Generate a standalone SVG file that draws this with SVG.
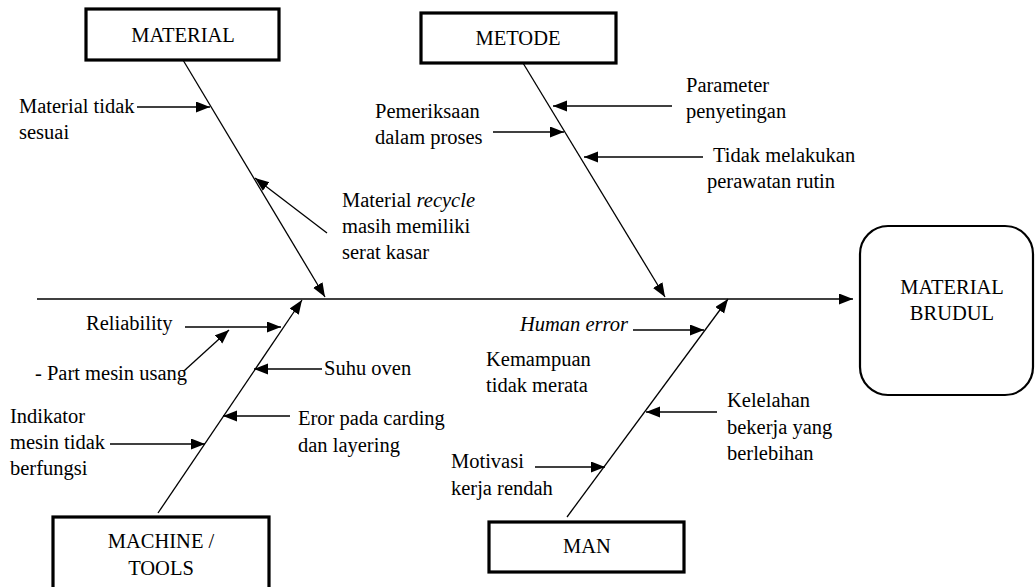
<svg xmlns="http://www.w3.org/2000/svg" width="1035" height="587" viewBox="0 0 1035 587">
<defs>
<marker id="ah" markerUnits="userSpaceOnUse" markerWidth="15" markerHeight="12" refX="14" refY="5.5" orient="auto">
<path d="M0,0 L14,5.5 L0,11 z" fill="#000"/>
</marker>
<style>
text{font-family:"Liberation Serif","Times New Roman",serif;font-size:20.5px;fill:#000}
.c{text-anchor:middle}
.i{font-style:italic}
.box{fill:#fff;stroke:#000;stroke-width:3.2}
.rbox{fill:#fff;stroke:#000;stroke-width:2.2}
#connectors line{stroke:#000;stroke-width:1.3;fill:none}
.a{marker-end:url(#ah)}
</style>
</defs>
<rect width="1035" height="587" fill="#fff"/>
<g id="connectors">
<line class="a" x1="37" y1="299" x2="853" y2="299"/>
<line class="a" x1="183" y1="60" x2="325" y2="297"/>
<line class="a" x1="523" y1="63" x2="665" y2="297"/>
<line class="a" x1="158" y1="513" x2="302" y2="300"/>
<line class="a" x1="567" y1="517" x2="728" y2="299"/>
<line class="a" x1="137" y1="107" x2="210" y2="107"/>
<line class="a" x1="327" y1="233" x2="255" y2="178"/>
<line class="a" x1="493" y1="132" x2="564" y2="132"/>
<line class="a" x1="672" y1="106" x2="553" y2="106"/>
<line class="a" x1="703" y1="157" x2="584" y2="157"/>
<line class="a" x1="185" y1="327" x2="281" y2="327"/>
<line class="a" x1="185" y1="370" x2="229" y2="330"/>
<line class="a" x1="322" y1="369" x2="254" y2="369"/>
<line class="a" x1="290" y1="416" x2="223" y2="416"/>
<line class="a" x1="110" y1="444" x2="205" y2="444"/>
<line class="a" x1="633" y1="330" x2="704" y2="330"/>
<line class="a" x1="717" y1="412" x2="646" y2="412"/>
<line class="a" x1="535" y1="467" x2="605" y2="467"/>
</g>
<g id="material">
<rect class="box" x="86" y="9" width="193" height="51"/>
<text class="c" x="183" y="42">MATERIAL</text>
</g>
<g id="metode">
<rect class="box" x="421" y="13" width="195" height="50"/>
<text class="c" x="518" y="45">METODE</text>
</g>
<g id="machine">
<rect class="box" x="53" y="517" width="216" height="90"/>
<text class="c" x="161" y="548">MACHINE /</text>
<text class="c" x="161" y="575">TOOLS</text>
</g>
<g id="man">
<rect class="box" x="489" y="522" width="195" height="50"/>
<text class="c" x="587" y="553">MAN</text>
</g>
<g id="effect">
<rect class="rbox" x="860" y="226" width="173" height="169" rx="28"/>
<text class="c" x="952" y="294">MATERIAL</text>
<text class="c" x="952" y="320">BRUDUL</text>
</g>
<g id="labels">
<text x="19" y="113">Material tidak</text>
<text x="19" y="139">sesuai</text>
<text x="342" y="207">Material <tspan class="i">recycle</tspan></text>
<text x="342" y="233">masih memiliki</text>
<text x="342" y="259">serat kasar</text>
<text x="375" y="118">Pemeriksaan</text>
<text x="375" y="144">dalam proses</text>
<text x="686" y="92">Parameter</text>
<text x="686" y="118">penyetingan</text>
<text x="713" y="162">Tidak melakukan</text>
<text x="707" y="188">perawatan rutin</text>
<text x="86" y="330">Reliability</text>
<text x="35" y="380">- Part mesin usang</text>
<text x="324" y="375">Suhu oven</text>
<text x="298" y="425">Eror pada carding</text>
<text x="298" y="452">dan layering</text>
<text x="10" y="423">Indikator</text>
<text x="10" y="449">mesin tidak</text>
<text x="10" y="475">berfungsi</text>
<text class="i" x="628" y="331" text-anchor="end">Human error</text>
<text x="486" y="366">Kemampuan</text>
<text x="486" y="392">tidak merata</text>
<text x="727" y="407">Kelelahan</text>
<text x="727" y="434">bekerja yang</text>
<text x="727" y="460">berlebihan</text>
<text x="451" y="468">Motivasi</text>
<text x="451" y="495">kerja rendah</text>
</g>
</svg>
